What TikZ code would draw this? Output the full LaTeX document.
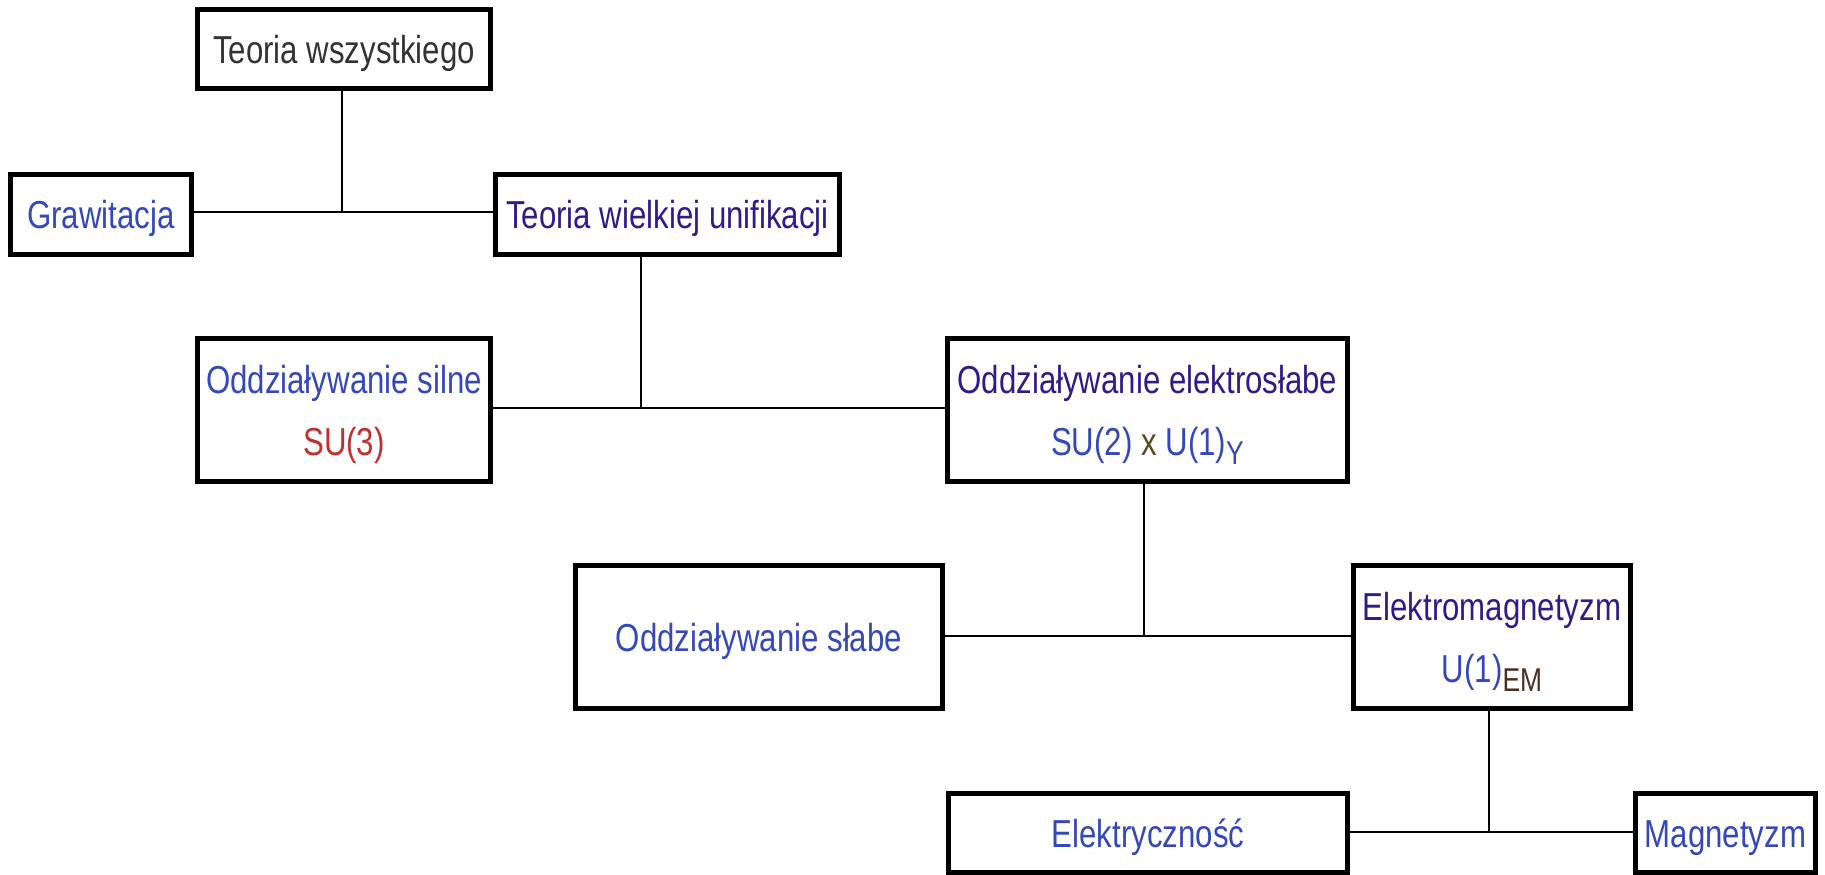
\documentclass[tikz,border=0pt]{standalone}
\usepackage{fontspec}
\newfontfamily\dfont{Liberation Sans}[FakeStretch=0.8]
\definecolor{cBlue}{RGB}{52,72,184}
\definecolor{cNavy}{RGB}{46,28,136}
\definecolor{cDark}{RGB}{51,51,51}
\definecolor{cRed}{RGB}{192,48,46}
\definecolor{cOlive}{RGB}{90,74,30}
\definecolor{cBrown}{RGB}{74,48,32}
\newcommand{\subtxt}[1]{\raisebox{-4.8pt}{\fontsize{16.5}{16.5}\selectfont #1}}
\begin{document}
\begin{tikzpicture}[x=0.5pt,y=-0.5pt,
  box/.style={draw=black, line width=2.5pt, fill=white, inner sep=0pt,
    font=\dfont\fontsize{19.5}{31}\selectfont, align=center,
    text height=14pt, text depth=0pt, text=cBlue},
  twoline/.style={text height=45pt, text depth=0pt},
  conn/.style={draw=black, line width=1pt}]
\useasboundingbox (0,0) rectangle (1825,874);
\fill[white] (0,0) rectangle (1825,874);

\node[box, minimum width=146.5pt, minimum height=39.5pt, text=cDark] (tw) at (344,49) {Teoria wszystkiego};
\node[box, minimum width=90.5pt, minimum height=40pt] (graw) at (101,214.5) {Grawitacja};
\node[box, minimum width=172pt, minimum height=40pt, text=cNavy] (twu) at (667.5,214.5) {Teoria wielkiej unifikacji};
\node[box, twoline, minimum width=146.5pt, minimum height=71.5pt] (silne) at (344,410) {Oddziaływanie silne\\ \textcolor{cRed}{SU(3)}};
\node[box, twoline, minimum width=200pt, minimum height=71.5pt, text=cNavy] (es) at (1147.5,410) {Oddziaływanie elektrosłabe\\ \textcolor{cBlue}{SU(2) \textcolor{cOlive}{x} U(1)\subtxt{Y}}};
\node[box, minimum width=183.5pt, minimum height=71.5pt] (slabe) at (759,637) {Oddziaływanie słabe};
\node[box, twoline, minimum width=138.5pt, minimum height=71.5pt, text=cNavy] (em) at (1492,637) {Elektromagnetyzm\\ \textcolor{cBlue}{U(1)}\textcolor{cBrown}{\subtxt{EM}}};
\node[box, minimum width=199.5pt, minimum height=39.5pt] (elek) at (1148,833) {Elektryczność};
\node[box, minimum width=90pt, minimum height=39.5pt] (magn) at (1725.5,833) {Magnetyzm};

\coordinate (j1) at (342,212);
\coordinate (j2) at (641,408);
\coordinate (j3) at (1144,636);
\coordinate (j4) at (1489,832);

\draw[conn] (tw.south -| j1) -- (j1);
\draw[conn] (graw.east |- j1) -- (twu.west |- j1);
\draw[conn] (twu.south -| j2) -- (j2);
\draw[conn] (silne.east |- j2) -- (es.west |- j2);
\draw[conn] (es.south -| j3) -- (j3);
\draw[conn] (slabe.east |- j3) -- (em.west |- j3);
\draw[conn] (em.south -| j4) -- (j4);
\draw[conn] (elek.east |- j4) -- (magn.west |- j4);
\end{tikzpicture}
\end{document}
